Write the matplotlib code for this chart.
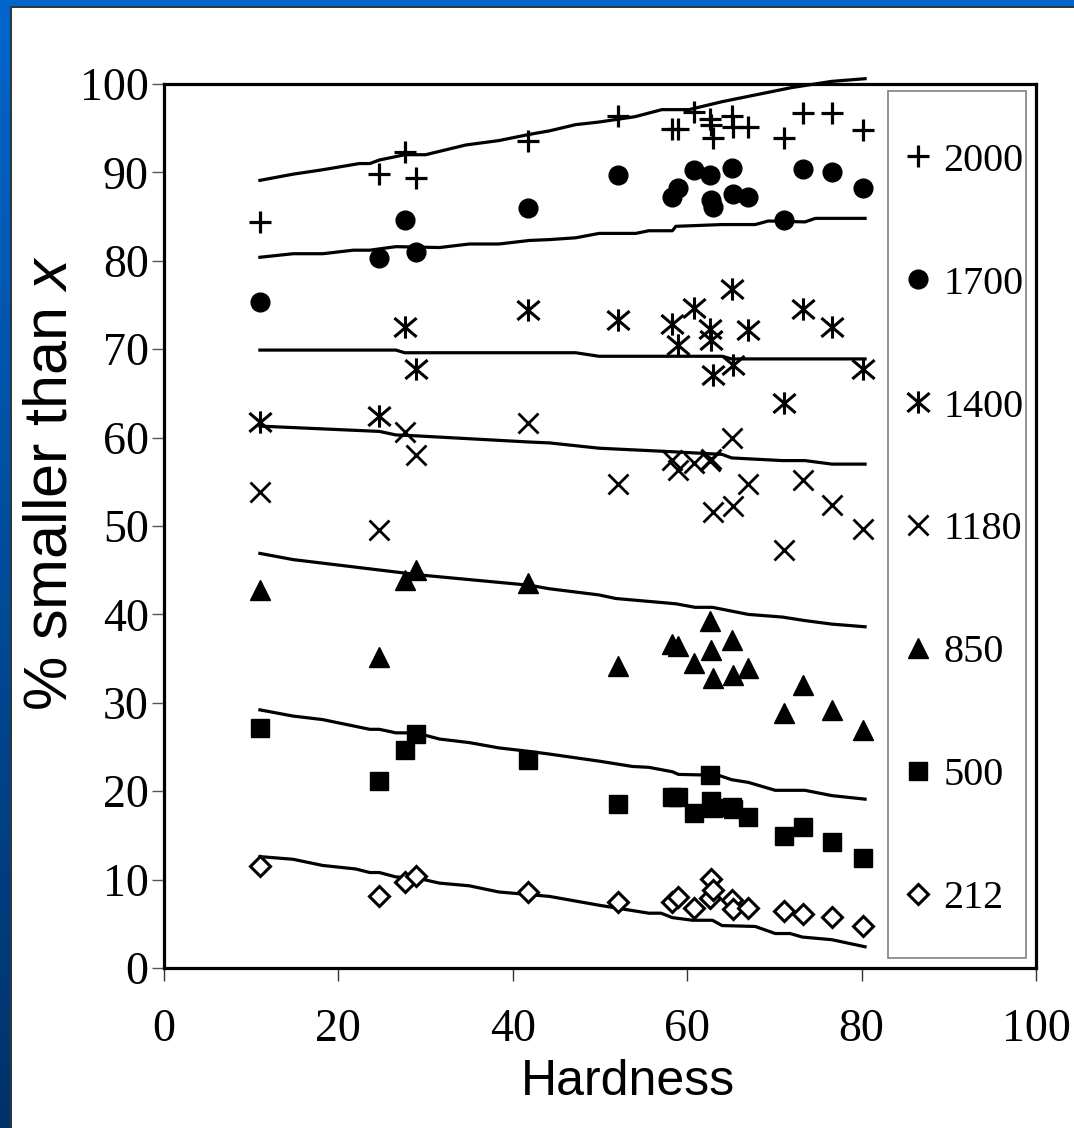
import matplotlib
matplotlib.use("Agg")
import matplotlib.pyplot as plt
import numpy as np
from matplotlib.patches import Rectangle
from matplotlib.path import Path

plt.rcParams['mathtext.fontset'] = 'custom'
plt.rcParams['mathtext.rm'] = 'Liberation Sans'
plt.rcParams['mathtext.it'] = 'Liberation Sans:italic'

# hardness of the 19 samples
hardness = [11.0, 24.6, 27.6, 28.9, 41.8, 52.1, 58.3, 59.0, 60.8, 62.6,
            62.7, 63.0, 65.1, 65.3, 67.0, 71.1, 73.3, 76.6, 80.2]

# measured % smaller than x, one list per sieve size
pct_2000 = [84.4, 89.8, 92.3, 89.4, 93.5, 96.4, 94.9, 94.9, 96.8, 96.0,
            95.4, 93.9, 96.4, 95.1, 95.1, 93.9, 96.7, 96.7, 94.8]
pct_1700 = [75.3, 80.3, 84.6, 81.0, 86.0, 89.7, 87.2, 88.2, 90.3, 89.7,
            86.9, 86.1, 90.5, 87.6, 87.2, 84.6, 90.4, 90.0, 88.2]
pct_1400 = [61.8, 62.4, 72.5, 67.8, 74.4, 73.3, 72.9, 70.5, 74.7, 72.3,
            71.0, 67.1, 76.8, 68.2, 72.2, 63.9, 74.6, 72.5, 67.8]
pct_1180 = [53.8, 49.5, 60.6, 58.0, 61.6, 54.8, 57.5, 56.3, 57.1, 57.3,
            57.6, 51.6, 59.9, 52.3, 54.8, 47.3, 55.2, 52.4, 49.7]
pct_850 = [42.8, 35.2, 43.9, 45.0, 43.5, 34.2, 36.7, 36.4, 34.5, 39.2,
           36.0, 32.8, 37.1, 33.1, 33.9, 28.8, 32.0, 29.2, 26.9]
pct_500 = [27.2, 21.1, 24.7, 26.5, 23.5, 18.5, 19.3, 19.3, 17.5, 21.8,
           18.9, 18.1, 18.2, 18.0, 17.1, 14.9, 16.0, 14.3, 12.4]
pct_212 = [11.5, 8.2, 9.7, 10.4, 8.6, 7.5, 7.5, 8.0, 6.8, 7.9,
           10.1, 8.8, 7.7, 6.7, 6.8, 6.4, 6.1, 5.8, 4.7]

# model curves (hardness, %)
fit_2000_x = [11.0, 14.8, 18.2, 22.4, 23.6, 24.7, 27.6, 30.0, 34.6, 38.4, 41.9, 44.2,
              47.2, 49.9, 54.0, 57.1, 60.2, 64.0, 67.0, 70.5, 72.0, 76.6, 80.4]
fit_2000_y = [89.1, 89.8, 90.3, 91.0, 91.0, 91.4, 92.0, 92.0, 93.1, 93.6, 94.3, 94.7,
              95.4, 95.7, 96.3, 97.1, 97.1, 98.0, 98.6, 99.3, 99.6, 100.3, 100.6]
fit_1700_x = [11.0, 14.8, 18.2, 21.7, 23.6, 26.6, 31.6, 35.0, 38.4, 41.9, 44.2, 47.2,
              49.9, 54.1, 55.6, 58.3, 58.7, 64.0, 67.8, 69.3, 73.5, 74.7, 80.4]
fit_1700_y = [80.4, 80.8, 80.8, 81.2, 81.2, 81.6, 81.5, 81.9, 81.9, 82.3, 82.4, 82.6,
              83.1, 83.1, 83.4, 83.4, 83.9, 84.1, 84.1, 84.5, 84.4, 84.8, 84.8]
fit_1400_x = [11.0, 24.7, 26.6, 27.6, 47.2, 49.9, 64.0, 65.1, 80.4]
fit_1400_y = [69.9, 69.9, 69.9, 69.6, 69.6, 69.2, 69.2, 68.9, 68.9]
fit_1180_x = [11.0, 24.7, 26.6, 28.9, 41.9, 44.2, 49.9, 58.3, 64.0, 65.1, 70.9, 73.5,
              76.6, 80.4]
fit_1180_y = [61.3, 60.7, 60.3, 60.2, 59.5, 59.4, 58.8, 58.4, 58.1, 57.7, 57.4, 57.4,
              57.0, 57.0]
fit_850_x = [11.0, 14.8, 27.4, 30.0, 41.9, 44.2, 49.9, 51.8, 58.7, 60.9, 62.9, 67.0,
             70.9, 73.5, 76.6, 80.4]
fit_850_y = [46.9, 46.2, 44.7, 44.4, 43.3, 42.9, 42.2, 41.8, 41.2, 40.8, 40.8, 40.0,
             39.7, 39.3, 38.9, 38.6]
fit_500_x = [11.0, 14.8, 18.2, 23.6, 24.7, 26.6, 28.9, 31.6, 35.0, 38.4, 41.9, 44.2,
             49.9, 53.7, 55.6, 58.3, 59.0, 63.6, 65.1, 67.0, 70.1, 73.5, 76.6, 80.4]
fit_500_y = [29.2, 28.5, 28.1, 27.0, 27.0, 26.6, 26.6, 25.9, 25.5, 24.9, 24.5, 24.2,
             23.4, 22.8, 22.7, 22.2, 21.9, 21.8, 21.3, 21.0, 20.1, 20.1, 19.5, 19.1]
fit_212_x = [11.0, 14.8, 18.2, 22.0, 23.6, 24.7, 26.6, 28.9, 31.6, 35.0, 38.4, 41.9,
             44.2, 49.9, 55.6, 57.0, 58.3, 60.6, 62.9, 64.0, 67.8, 70.1, 71.8, 73.2,
             76.6, 80.4]
fit_212_y = [12.6, 12.3, 11.6, 11.2, 10.8, 10.8, 10.3, 10.2, 9.6, 9.3, 8.6, 8.3,
             8.1, 7.1, 6.2, 6.2, 5.7, 5.4, 5.4, 4.8, 4.7, 3.9, 3.9, 3.5,
             3.2, 2.4]

sizes = ['2000', '1700', '1400', '1180', '850', '500', '212']
measured = [pct_2000, pct_1700, pct_1400, pct_1180, pct_850, pct_500, pct_212]
fits = [(fit_2000_x, fit_2000_y), (fit_1700_x, fit_1700_y), (fit_1400_x, fit_1400_y),
        (fit_1180_x, fit_1180_y), (fit_850_x, fit_850_y), (fit_500_x, fit_500_y),
        (fit_212_x, fit_212_y)]

# asterisk marker: an x with a vertical bar
M, L = Path.MOVETO, Path.LINETO
asterisk = Path([(-1, -0.85), (1, 0.85), (-1, 0.85), (1, -0.85), (0, -1), (0, 1)],
                [M, L, M, L, M, L])

styles = [
    dict(marker='+', ms=16, mew=2.3, mfc='black'),
    dict(marker='o', ms=13.5, mew=1, mfc='black'),
    dict(marker=asterisk, ms=16, mew=2.2, mfc='none'),
    dict(marker='x', ms=15, mew=2.0, mfc='black'),
    dict(marker='^', ms=15, mew=1, mfc='black'),
    dict(marker='s', ms=13.5, mew=1, mfc='black'),
    dict(marker='D', ms=10, mew=2.2, mfc='white'),
]

W, H = 1074, 1128
fig = plt.figure(figsize=(W / 100, H / 100), dpi=100)
fig.patch.set_facecolor('white')

# blue slide frame (left gradient strip + top strip)
top_col = np.array([0, 102, 204]) / 255
bot_col = np.array([0, 50, 105]) / 255
t = np.linspace(0, 1, H)[:, None, None]
left_strip = (1 - t) * top_col + t * bot_col
left_strip = np.repeat(left_strip, 10, axis=1)
fig.figimage(left_strip, xo=0, yo=0, origin='upper')
fig.figimage(np.tile(top_col, (6, W, 1)), xo=0, yo=H - 6, origin='upper')
edge = np.array([45, 55, 65]) / 255
fig.figimage(np.tile(edge, (H - 6, 2, 1)), xo=10, yo=0, origin='upper')
fig.figimage(np.tile(edge, (2, W - 10, 1)), xo=10, yo=H - 8, origin='upper')

ax = fig.add_axes([164 / W, 160 / H, 872 / W, 884 / H])
ax.set_xlim(0, 100)
ax.set_ylim(0, 100)

handles = []
for size, vals, (fx, fy), st in zip(sizes, measured, fits, styles):
    ax.plot(fx, fy, color='black', lw=2.3, clip_on=False, zorder=3)
    h, = ax.plot(hardness, vals, linestyle='none', color='black', mec='black',
                 zorder=4, clip_on=False, **st)
    handles.append(h)

for sp in ax.spines.values():
    sp.set_linewidth(2.3)
    sp.set_color('black')

ax.set_xticks(range(0, 101, 20))
ax.set_yticks(range(0, 101, 10))
ax.tick_params(axis='x', direction='out', length=9, width=1.0, color='#333333', pad=20)
ax.tick_params(axis='y', direction='out', length=9, width=1.0, color='#555555', pad=2)
for lab in ax.get_xticklabels() + ax.get_yticklabels():
    lab.set_fontfamily('Liberation Serif')
    lab.set_fontsize(33)

ax.set_xlabel('Hardness', fontsize=36, family='Liberation Sans')
ax.xaxis.set_label_coords((628 - 164) / 872, -0.103)
ax.set_ylabel('% smaller than $x$', fontsize=44, family='Liberation Sans')
ax.yaxis.set_label_coords(-0.097, 0.548)

# legend frame
ax.add_patch(Rectangle((0.830, 0.0113), 0.1585, 0.9807, transform=ax.transAxes,
                       facecolor='white', edgecolor='#808080', lw=1.2, zorder=2,
                       clip_on=False))
ax.legend(handles, sizes, loc='upper left', bbox_to_anchor=(0.8417, 0.934),
          frameon=False, borderpad=0, borderaxespad=0, handlelength=1.0,
          handletextpad=0.12, labelspacing=2.13, numpoints=1,
          prop={'family': 'Liberation Serif', 'size': 29})

fig.savefig('out.png', dpi=100)
